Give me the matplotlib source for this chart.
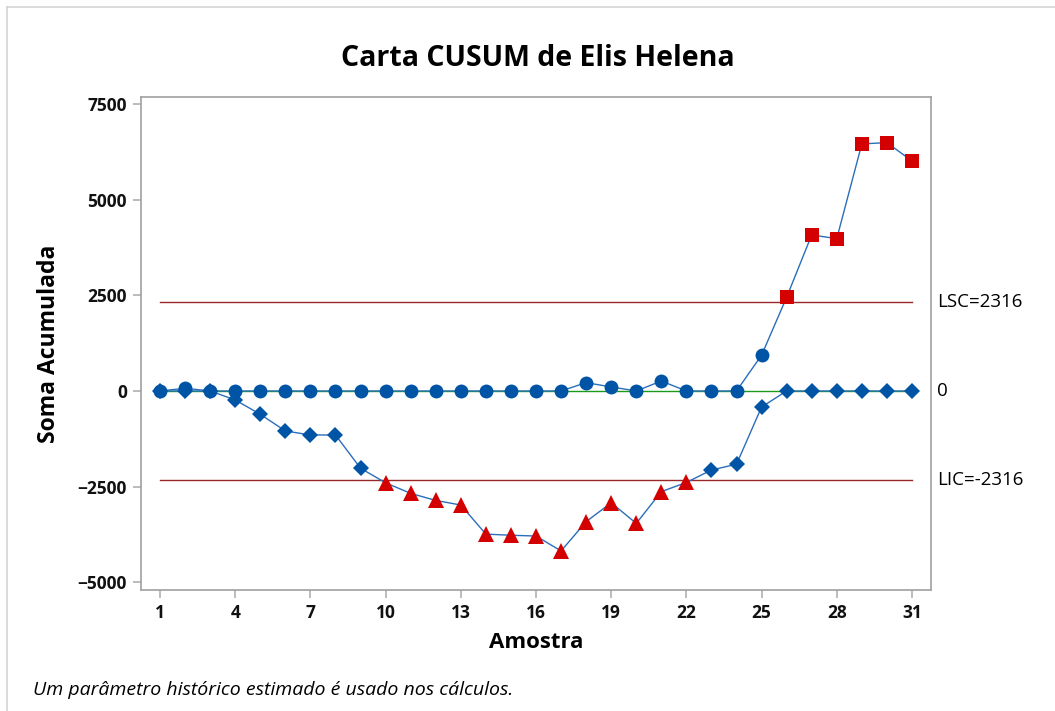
import matplotlib
matplotlib.use("Agg")
import matplotlib.pyplot as plt
from matplotlib.lines import Line2D
from matplotlib.transforms import blended_transform_factory
import numpy as np

plt.rcParams['font.family'] = ['Open Sans', 'DejaVu Sans']

# amostras 1..31
samples = list(range(1, 32))

# CUSUM superior (circulos / quadrados)
upper = [0, 70, 0, 0, 0, 0, 0, 0, 0, 0, 0, 0, 0, 0, 0, 0, 0,
         217, 105, 0, 260, 0, 0, 0, 933, 2448, 4076, 3980, 6454, 6488, 6010]

# CUSUM inferior (losangos / triangulos)
lower = [0, 0, 0, -235, -610, -1045, -1150, -1150, -2020, -2400, -2675,
         -2860, -2980, -3740, -3770, -3790, -4180, -3415, -2920, -3460,
         -2630, -2390, -2065, -1915, -420, 0, 0, 0, 0, 0, 0]

lsc = 2316
lic = -2316
center = 0

xticks = [1, 4, 7, 10, 13, 16, 19, 22, 25, 28, 31]
yticks = [-5000, -2500, 0, 2500, 5000, 7500]

blue = "#0054a6"
line_blue = "#2a6ebb"
red = "#d40000"
limit_red = "#982828"
green = "#1a9a1a"

fig = plt.figure(figsize=(10.55, 7.11), dpi=100)
ax = fig.add_axes([141 / 1055, 1 - 590 / 711, (931 - 141) / 1055, (590 - 97) / 711])

x = np.array(samples)
up = np.array(upper)
lo = np.array(lower)

ax.plot([x[0], x[-1]], [center, center], color=green, lw=1.0, zorder=1)
ax.plot([x[0], x[-1]], [lsc, lsc], color=limit_red, lw=1.0, zorder=1)
ax.plot([x[0], x[-1]], [lic, lic], color=limit_red, lw=1.0, zorder=1)

ax.plot(x, up, color=line_blue, lw=1.0, zorder=2)
ax.plot(x, lo, color=line_blue, lw=1.0, zorder=2)

ok_up = up <= lsc
ok_lo = lo >= lic
ax.plot(x[ok_up], up[ok_up], 'o', color=blue, ms=10, mew=0, ls='none', zorder=3)
ax.plot(x[~ok_up], up[~ok_up], 's', color=red, ms=9.5, mew=0, ls='none', zorder=3)
ax.plot(x[ok_lo], lo[ok_lo], 'D', color=blue, ms=8.5, mew=0, ls='none', zorder=4)
ax.plot(x[~ok_lo], lo[~ok_lo], '^', color=red, ms=11, mew=0, ls='none', zorder=4)

ax.set_xlim(0.24, 31.76)
ax.set_ylim(-5200, 7680)
ax.set_xticks(xticks)
ax.set_yticks(yticks)
ax.tick_params(axis='both', colors='#b0b0b0', length=6, width=1.2,
               labelcolor='#111111', labelsize=12.5, pad=4)
for lab in ax.get_xticklabels() + ax.get_yticklabels():
    lab.set_fontweight('bold')
for s in ax.spines.values():
    s.set_color('#a0a0a0')
    s.set_linewidth(1.2)

ax.set_xlabel("Amostra", fontsize=16, fontweight='bold', labelpad=7)
ax.set_ylabel("Soma Acumulada", fontsize=16.5, fontweight='bold', labelpad=12)
fig.text(538 / 1055, 1 - 58 / 711, "Carta CUSUM de Elis Helena", fontsize=20.5,
         fontweight='bold', ha='center', va='center')

tr = blended_transform_factory(ax.transAxes, ax.transData)
ax.text(1.008, lsc, "LSC=2316", transform=tr, fontsize=13.5, va='center', ha='left')
ax.text(1.008, center, "0", transform=tr, fontsize=13.5, va='center', ha='left')
ax.text(1.008, lic, "LIC=-2316", transform=tr, fontsize=13.5, va='center', ha='left')

fig.text(33 / 1055, 1 - 690 / 711, "Um parâmetro histórico estimado é usado nos cálculos.",
         fontsize=14, style='italic', ha='left', va='center')

# moldura clara do recorte
fig.add_artist(Line2D([7 / 1055, 1], [1 - 7 / 711, 1 - 7 / 711], color='#d4d4d4', lw=1.2))
fig.add_artist(Line2D([7 / 1055, 7 / 1055], [0, 1 - 7 / 711], color='#d4d4d4', lw=1.2))

fig.savefig("out.png", dpi=100)
